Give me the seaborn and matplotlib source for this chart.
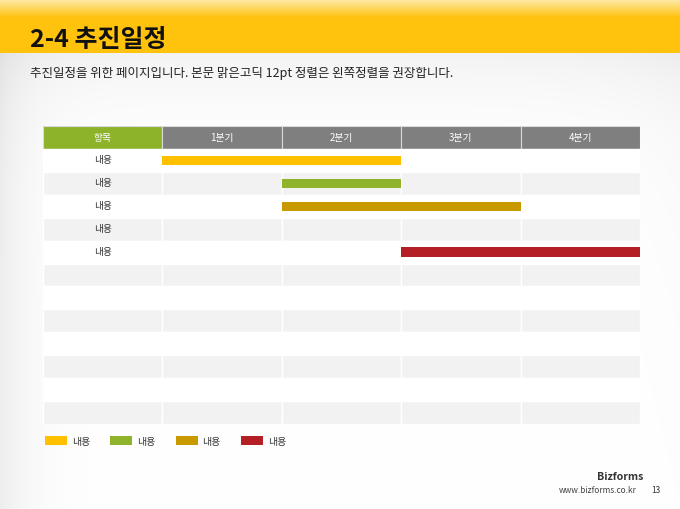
import numpy as np
import pandas as pd
import matplotlib
matplotlib.use("Agg")
import matplotlib.pyplot as plt
from matplotlib.patches import Rectangle, Patch
import seaborn as sns

# ---------------- data ----------------
title = "2-4 추진일정"
subtitle = "추진일정을 위한 페이지입니다. 본문 맑은고딕 12pt 정렬은 왼쪽정렬을 권장합니다."
header_first = "항목"
quarters = ["1분기", "2분기", "3분기", "4분기"]
row_labels = ["내용", "내용", "내용", "내용", "내용"]
n_table_rows = 12

bar_rows = [0, 1, 2, 4]
bar_start = [0, 1, 1, 2]      # quarter index where the bar starts
bar_end = [2, 2, 3, 4]        # quarter index where the bar ends
bar_colors = ["#ffc000", "#8fb32a", "#c99a00", "#b31f24"]
legend_labels = ["내용", "내용", "내용", "내용"]

footer_brand = "Bizforms"
footer_url = "www.bizforms.co.kr"
page_no = "13"

# ---------------- style ----------------
sns.set_theme(style="white")
plt.rcParams["font.family"] = ["Noto Sans CJK KR", "DejaVu Sans"]

W, H = 680, 510
fig = plt.figure(figsize=(W / 100, H / 100), dpi=100)

# ---------------- background ----------------
bg = fig.add_axes([0, 0, 1, 1])
bg.set_axis_off()
xx, yy = np.meshgrid(np.arange(W), np.arange(H))
shade = 0.07 * np.exp(-xx / 30.0)
shade += 0.05 * np.exp(-np.clip(yy - 53, 0, None) / 45.0) * (yy >= 53)
shade += 0.03 * np.exp(-(W - xx) / 60.0) * np.exp(-yy / 250.0)
img = np.ones((H, W, 3)) * (1 - shade[..., None])
# yellow header band
top = np.array([253, 234, 170]) / 255
yel = np.array([255, 195, 14]) / 255
for y in range(0, 54):
    t = min(y / 18.0, 1.0)
    img[y, :, :] = top * (1 - t) + yel * t
img = np.clip(img, 0, 1)
bg.imshow(img, extent=[0, W, H, 0], aspect="auto")
bg.set_xlim(0, W)
bg.set_ylim(H, 0)

fig.text(30 / W, 1 - 40 / H, title, fontsize=18, fontweight="bold",
         va="center", ha="left", color="#111111")
fig.text(30 / W, 1 - 73 / H, subtitle, fontsize=9, va="center", ha="left",
         color="#222222")

# ---------------- table ----------------
ax = fig.add_axes([43 / W, 1 - 425 / H, 597 / W, 298 / H])
ax.set_axis_off()

# header cells
for c in range(len(quarters) + 1):
    fc = "#8db32b" if c == 0 else "#7f7f7f"
    ax.add_patch(Rectangle((c - 1, -1), 1, 1, facecolor=fc, edgecolor="#d9d9d9",
                           linewidth=0.8, zorder=0.5))
    label = header_first if c == 0 else quarters[c - 1]
    ax.text(c - 0.5, -0.5, label, ha="center", va="center", fontsize=7,
            color="white", zorder=3)

# body cells
for r in range(n_table_rows):
    fc = "#f2f2f2" if r % 2 == 1 else "#ffffff"
    for c in range(len(quarters) + 1):
        ax.add_patch(Rectangle((c - 1, r), 1, 1, facecolor=fc, edgecolor="white",
                               linewidth=1.0, zorder=0.5))

for r, lab in enumerate(row_labels):
    ax.text(-0.5, r + 0.45, lab, ha="center", va="center", fontsize=7,
            color="#333333", zorder=3)

# gantt bars
for row, s, e, col in zip(bar_rows, bar_start, bar_end, bar_colors):
    df = pd.DataFrame({"dur": [e - s], "row": [row + 0.5]})
    sns.barplot(data=df, x="dur", y="row", orient="h", native_scale=True,
                left=s, color=col, saturation=1, width=0.4, errorbar=None,
                ax=ax, zorder=2, linewidth=0)

ax.set_axis_off()
ax.set_xlim(-1, len(quarters))
ax.set_ylim(n_table_rows, -1)

# ---------------- legend ----------------
handles = [Patch(facecolor=c, edgecolor="none") for c in bar_colors]
fig.legend(handles, legend_labels, loc="center left",
           bbox_to_anchor=(45 / W, 1 - 442 / H), ncol=4, frameon=False,
           fontsize=7.2, handlelength=2.2, handleheight=1.0, handletextpad=0.5,
           columnspacing=2.0, borderpad=0, borderaxespad=0, labelcolor="#333333")

# ---------------- footer ----------------
fig.text(643 / W, 1 - 477 / H, footer_brand, ha="right", va="center",
         fontsize=7.6, fontweight="bold", color="#333333")
fig.text(637 / W, 1 - 491 / H, footer_url, ha="right", va="center",
         fontsize=6.0, color="#444444")
fig.text(651 / W, 1 - 491 / H, page_no, ha="left", va="center",
         fontsize=6.0, color="#333333")

fig.savefig("out.png", dpi=100)
